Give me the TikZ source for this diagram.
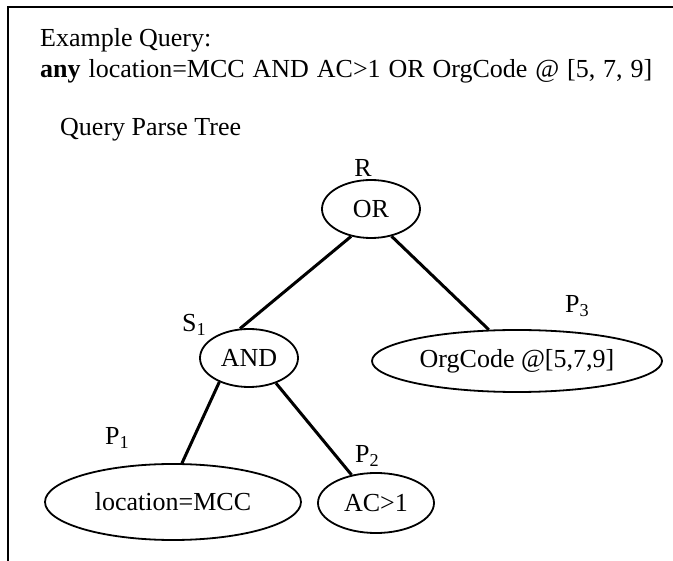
\documentclass[tikz,border=0pt]{standalone}
\usepackage{fontspec}
\setmainfont{Liberation Serif}
\usetikzlibrary{shapes.geometric}

\begin{document}
\begin{tikzpicture}[x=1pt, y=-1pt,
    every node/.style={font=\fontsize{26}{30}\selectfont, inner sep=0pt},
    op/.style={draw, ellipse, line width=1.8pt},
    branch/.style={line width=3pt}]
    \useasboundingbox (0,0) rectangle (673,561);
    \draw[line width=1.6pt] (8,561) -- (8,7) -- (673,7);

    \node[anchor=base west] (title) at (40,47) {Example Query:};
    \node[anchor=base west] (query) at (40,78) {\spaceskip=7.9pt\relax\textbf{any} location=MCC AND AC>1 OR OrgCode @ [5, 7, 9]};
    \node[anchor=base west] (caption) at (60,136) {Query Parse Tree};

    \node[op, minimum width=98, minimum height=58] (or) at (371,209) {OR};
    \node[op, minimum width=98, minimum height=58] (and) at (249,358) {AND};
    \node[op, minimum width=290, minimum height=62] (org) at (517,361) {OrgCode @[5,7,9]};
    \node[op, minimum width=256, minimum height=76] (loc) at (173,502) {location=MCC};
    \node[op, minimum width=116, minimum height=60] (ac) at (376,503) {AC>1};

    \node[anchor=base] (rlbl) at (363,177) {R};
    \node[anchor=base west] (slbl) at (182,332) {S\textsubscript{1}};
    \node[anchor=base west] (p3lbl) at (565,313) {P\textsubscript{3}};
    \node[anchor=base west] (p1lbl) at (105,445) {P\textsubscript{1}};
    \node[anchor=base west] (p2lbl) at (355,463) {P\textsubscript{2}};

    \draw[branch] (or.234) -- (and.107);
    \draw[branch] (or.307) -- (org.132);
    \draw[branch] (and.219) -- (loc.77);
    \draw[branch] (and.317) -- (ac.131);
\end{tikzpicture}
\end{document}
